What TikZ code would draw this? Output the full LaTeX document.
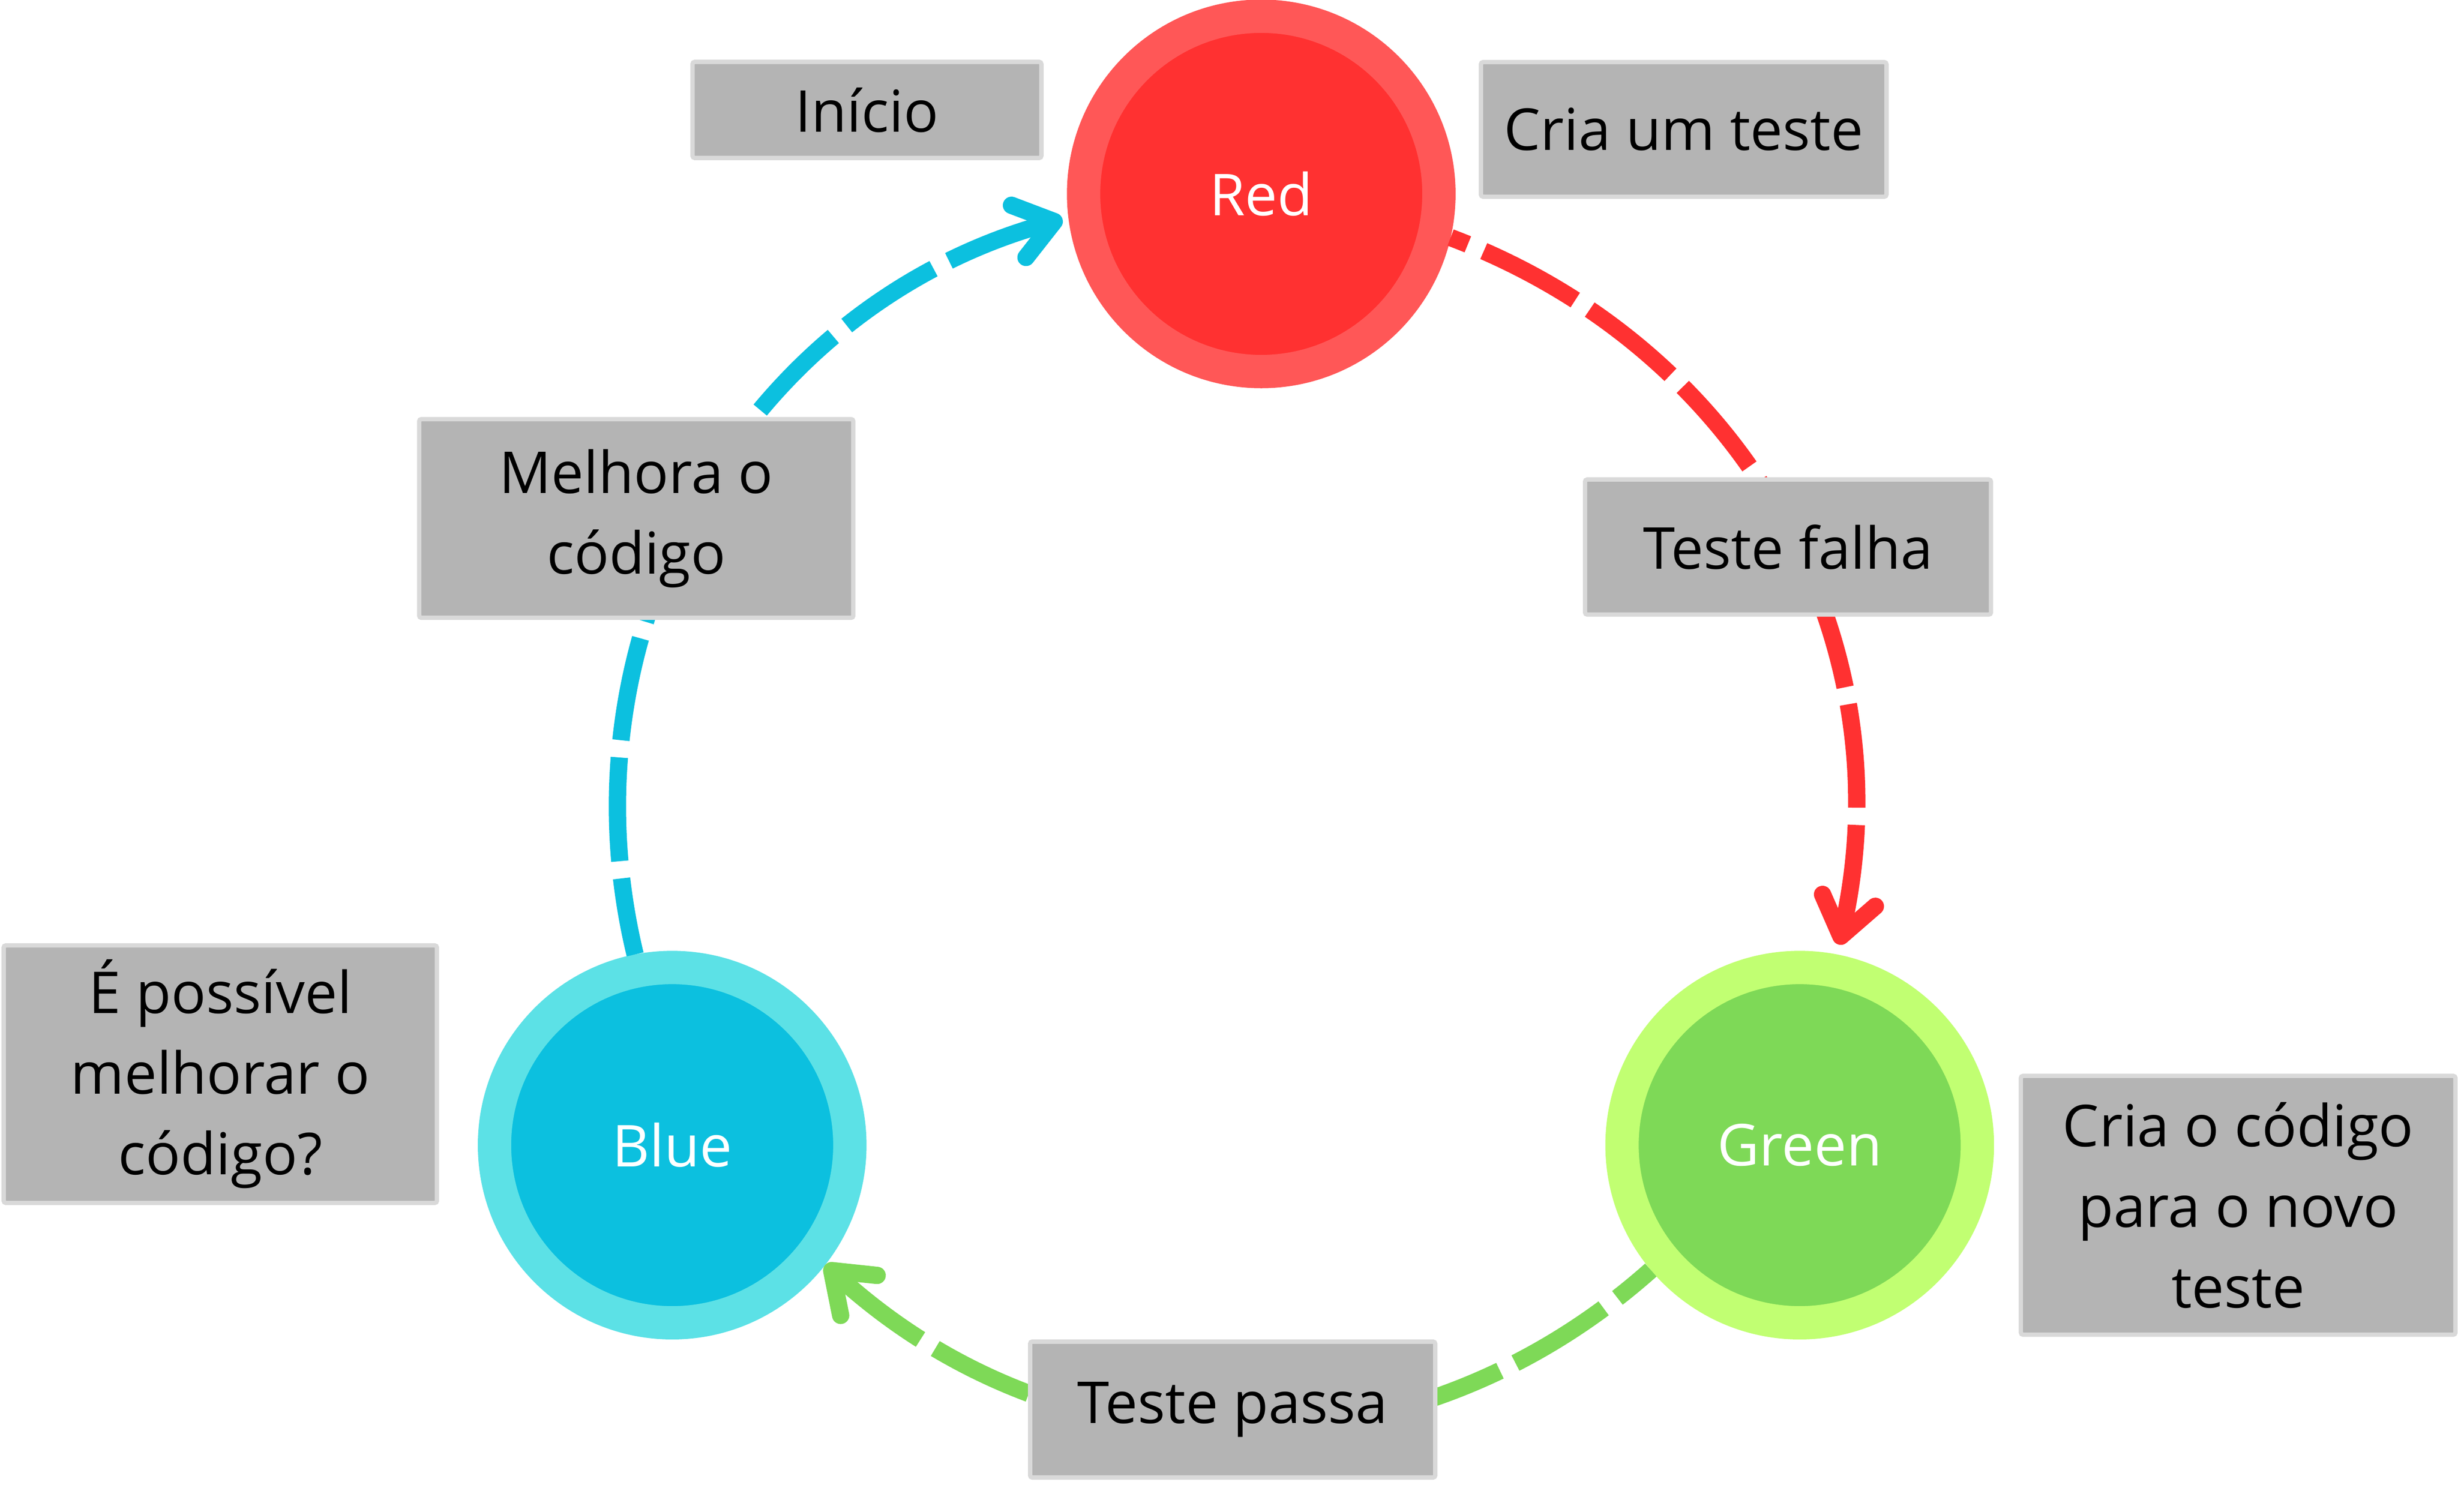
\documentclass[tikz,border=0pt]{standalone}
\usepackage{fontspec}
\setmainfont{Open Sans}
\usepackage{xcolor}
\usetikzlibrary{arrows.meta}
\definecolor{redring}{HTML}{FF5757}
\definecolor{redfill}{HTML}{FF3131}
\definecolor{greenring}{HTML}{C1FF72}
\definecolor{greenfill}{HTML}{7ED957}
\definecolor{bluering}{HTML}{5CE1E6}
\definecolor{bluefill}{HTML}{0CC0DF}
\definecolor{boxfill}{HTML}{B4B4B4}
\definecolor{boxedge}{HTML}{D9D9D9}

\begin{document}
\begin{tikzpicture}[every text node part/.style={align=center},
  phase/.style={circle,line width=0.77cm,minimum size=8.21cm,outer sep=0.385cm,text=white},
  stepbox/.style={rectangle,fill=boxfill,draw=boxedge,line width=0.1cm,rounded corners=0.05cm},
  cycleline/.style={line width=0.4cm,dash pattern=on 2.4cm off 0.4cm,
    {Straight Barb[length=0.85cm,width=1.25cm,line cap=round,line join=round]}-}]
\tikzstyle{every node}+=[inner sep=0pt,font=\fontsize{38}{53}\selectfont]
\useasboundingbox (0,0) rectangle (56.79,-34.93);
% the three phases
\node [phase,draw=redring,fill=redfill] (red) at (29.14,-4.48) {Red};
\node [phase,draw=greenring,fill=greenfill] (green) at (41.58,-26.46) {Green};
\node [phase,draw=bluering,fill=bluefill] (blue) at (15.53,-26.46) {Blue};
% cycle (drawn from the arrow tip back, so the dashes start at the tip)
\draw [cycleline,redfill,shorten <=0.23cm] (green.79) to[bend right=41] (red.-13);
\draw [cycleline,greenfill] (blue.-38.5) to[bend right=42] (green.220);
\draw [cycleline,bluefill,shorten <=0.14cm] (red.187) to[bend right=44] (blue.101);
% labels
\node [stepbox,minimum width=8.06cm,minimum height=2.22cm] (inicio) at (20.03,-2.54) {Início};
\node [stepbox,minimum width=9.37cm,minimum height=3.11cm] (criateste) at (38.9,-2.99) {Cria um teste};
\node [stepbox,minimum width=9.38cm,minimum height=3.12cm] (falha) at (41.31,-12.64) {Teste falha};
\node [stepbox,minimum width=10.03cm,minimum height=4.59cm] (melhora) at (14.7,-11.98) {Melhora o\\código};
\node [stepbox,minimum width=10.01cm,minimum height=5.95cm] (possivel) at (5.09,-24.82) {É possível\\melhorar o\\código?};
\node [stepbox,minimum width=10.04cm,minimum height=5.98cm] (criacodigo) at (51.71,-27.85) {Cria o código\\para o novo\\teste};
\node [stepbox,minimum width=9.36cm,minimum height=3.14cm] (passa) at (28.48,-32.57) {Teste passa};
\end{tikzpicture}
\end{document}
